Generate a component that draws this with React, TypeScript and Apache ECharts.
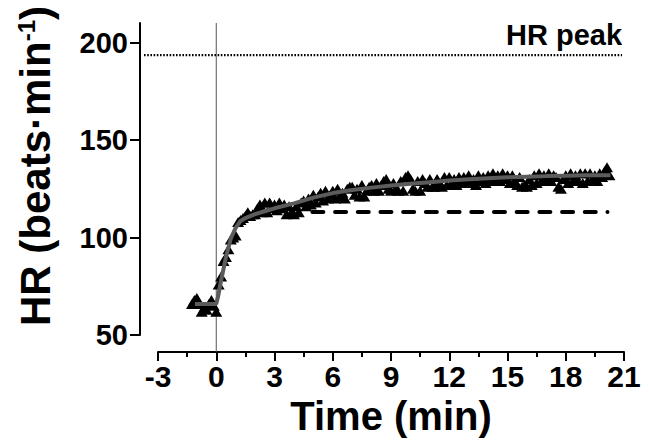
import React, { useEffect, useRef } from "react";
import * as echarts from "echarts";

// Heart-rate samples (min, beats·min^-1)
const timeMin = [
  -1.25, -1.125, -1.0, -0.875, -0.75, -0.625, -0.5, -0.375, -0.25, -0.125, 0,
  0.125, 0.25, 0.375, 0.5, 0.625, 0.75, 0.875, 1.0, 1.125, 1.25, 1.375, 1.5, 1.625, 1.75, 1.875,
  2.0, 2.125, 2.25, 2.375, 2.5, 2.625, 2.75, 2.875, 3.0, 3.125, 3.25, 3.375, 3.5, 3.625, 3.75, 3.875,
  4.0, 4.125, 4.25, 4.375, 4.5, 4.625, 4.75, 4.875, 5.0, 5.125, 5.25, 5.375, 5.5, 5.625, 5.75, 5.875,
  6.0, 6.125, 6.25, 6.375, 6.5, 6.625, 6.75, 6.875, 7.0, 7.125, 7.25, 7.375, 7.5, 7.625, 7.75, 7.875,
  8.0, 8.125, 8.25, 8.375, 8.5, 8.625, 8.75, 8.875, 9.0, 9.125, 9.25, 9.375, 9.5, 9.625, 9.75, 9.875,
  10.0, 10.125, 10.25, 10.375, 10.5, 10.625, 10.75, 10.875, 11.0, 11.125, 11.25, 11.375, 11.5, 11.625, 11.75, 11.875,
  12.0, 12.125, 12.25, 12.375, 12.5, 12.625, 12.75, 12.875, 13.0, 13.125, 13.25, 13.375, 13.5, 13.625, 13.75, 13.875,
  14.0, 14.125, 14.25, 14.375, 14.5, 14.625, 14.75, 14.875, 15.0, 15.125, 15.25, 15.375, 15.5, 15.625, 15.75, 15.875,
  16.0, 16.125, 16.25, 16.375, 16.5, 16.625, 16.75, 16.875, 17.0, 17.125, 17.25, 17.375, 17.5, 17.625, 17.75, 17.875,
  18.0, 18.125, 18.25, 18.375, 18.5, 18.625, 18.75, 18.875, 19.0, 19.125, 19.25, 19.375, 19.5, 19.625, 19.75, 19.875,
  20.0, 20.125, 20.25,
];
const hrValues = [
  66, 68, 69, 66, 62, 64, 63, 66, 68, 65, 62,
  76, 80, 88, 90, 94, 99, 100, 101, 108, 109, 110, 111, 113, 111, 112,
  112, 115, 117, 113, 118, 113, 118, 115, 117, 114, 118, 115, 117, 112, 116, 113,
  112, 116, 113, 118, 119, 116, 120, 117, 122, 118, 121, 123, 119, 124, 120, 122,
  124, 120, 125, 121, 123, 120, 125, 126, 126, 122, 125, 121, 127, 121, 124, 126,
  127, 124, 128, 124, 127, 129, 130, 125, 124, 128, 125, 124, 129, 124, 131, 132,
  130, 125, 124, 129, 124, 130, 128, 126, 130, 126, 126, 130, 128, 126, 131, 127,
  131, 127, 130, 127, 131, 128, 131, 128, 132, 128, 130, 127, 132, 129, 131, 128,
  132, 129, 133, 129, 132, 129, 133, 130, 132, 128, 132, 129, 127, 131, 126, 127,
  126, 130, 127, 132, 128, 133, 129, 132, 130, 133, 129, 132, 131, 126, 125, 130,
  132, 128, 133, 129, 132, 129, 133, 128, 133, 129, 133, 130, 132, 129, 133, 131,
  134, 136, 132,
];

// Model fit curve
const fitTime = [-1.1, 0, 0.1, 0.25, 0.5, 0.75, 1.0, 1.25, 1.5, 2, 2.5, 3, 4, 5, 6, 7, 8, 9, 10, 11, 12, 13, 14, 15, 16, 17, 18, 19, 20.3];
const fitHR = [66, 66, 70, 78, 90, 99.5, 105, 108.5, 110, 112, 113.5, 115, 117.5, 120.5, 122.8, 124.4, 125.6, 126.7, 127.6, 128.4, 129.2, 129.9, 130.4, 130.9, 131.2, 131.5, 131.7, 131.9, 132];

// Reference lines
const hrPeak = 193.5;
const peakLineFrom = -3.72;
const peakLineTo = 20.9;
const plateauHR = 113.4;
const plateauFrom = 4.95;
const plateauTo = 20.15;
const exerciseOnset = 0;

// Axis ticks
const xTicks = [-3, 0, 3, 6, 9, 12, 15, 18, 21];
const yTicks = [50, 100, 150, 200];
const yMax = 210;
const onsetLineBottom = 41.3;

const FONT = '"Liberation Sans", Arial, Helvetica, sans-serif';

export default function App() {
  const ref = useRef<HTMLDivElement>(null);

  useEffect(() => {
    if (!ref.current) return;
    const chart = echarts.init(ref.current, null, { renderer: "svg" });

    const titleGraphic = {
      id: "ytitle",
      type: "text",
      x: 35,
      y: 166,
      rotation: Math.PI / 2,
      style: {
        text: "{a|HR (beats·min}{b|-1}{a|)}",
        align: "center",
        verticalAlign: "middle",
        rich: {
          a: { fontSize: 42, fontWeight: "bold", fontFamily: FONT, fill: "#000" },
          b: { fontSize: 24, fontWeight: "bold", fontFamily: FONT, fill: "#000", verticalAlign: "top" },
        },
      },
    };

    const option: any = {
      animation: false,
      backgroundColor: "#fff",
      grid: { left: 158, right: 25, top: 23, bottom: 104, containLabel: false },
      xAxis: {
        type: "value",
        min: xTicks[0],
        max: xTicks[xTicks.length - 1],
        interval: 3,
        offset: 17,
        axisLine: { show: true, onZero: false, lineStyle: { color: "#000", width: 2 } },
        axisTick: { show: true, length: 9, lineStyle: { color: "#000", width: 2 } },
        minorTick: { show: true, splitNumber: 2, length: 5, lineStyle: { color: "#000", width: 2 } },
        axisLabel: { fontSize: 30, fontWeight: "bold", color: "#000", fontFamily: FONT, margin: 9 },
        splitLine: { show: false },
        name: "Time (min)",
        nameLocation: "middle",
        nameGap: 42,
        nameTextStyle: { fontSize: 40, fontWeight: "bold", color: "#000", fontFamily: FONT },
      },
      yAxis: {
        type: "value",
        min: yTicks[0],
        max: yMax,
        offset: 18,
        axisLine: { show: true, onZero: false, lineStyle: { color: "#000", width: 2 } },
        axisTick: { show: true, length: 10, customValues: yTicks, lineStyle: { color: "#000", width: 2 } },
        axisLabel: { customValues: yTicks, fontSize: 29, fontWeight: "bold", color: "#000", fontFamily: FONT, margin: 12 },
        splitLine: { show: false },
      },
      graphic: [titleGraphic],
      series: [
        {
          type: "scatter",
          symbol: "triangle",
          symbolSize: [12, 10],
          itemStyle: { color: "#000", opacity: 1 },
          z: 2,
          data: timeMin.map((t, i) => [t, hrValues[i]]),
        },
        {
          type: "line",
          data: [],
          clip: false,
          silent: true,
          z: 3,
          markLine: {
            silent: true,
            symbol: ["none", "none"],
            z: 3,
            data: [
              [
                { coord: [plateauFrom, plateauHR], lineStyle: { color: "#000", width: 4, type: [11, 11.7], cap: "round" }, label: { show: false } },
                { coord: [plateauTo, plateauHR] },
              ],
            ],
          },
        },
        {
          type: "line",
          showSymbol: false,
          symbol: "none",
          z: 4,
          lineStyle: { color: "#5c5c5c", width: 4 },
          data: fitTime.map((t, i) => [t, fitHR[i]]),
        },
      ],
    };

    chart.setOption(option);

    // Reference lines that extend beyond the plotting area, placed through the chart's scales
    const onsetTop = chart.convertToPixel({ gridIndex: 0 }, [exerciseOnset, yMax]) as number[];
    const onsetBot = chart.convertToPixel({ gridIndex: 0 }, [exerciseOnset, onsetLineBottom]) as number[];
    const peakA = chart.convertToPixel({ gridIndex: 0 }, [peakLineFrom, hrPeak]) as number[];
    const peakB = chart.convertToPixel({ gridIndex: 0 }, [peakLineTo, hrPeak]) as number[];

    chart.setOption({
      graphic: [
        titleGraphic,
        {
          id: "onset",
          type: "line",
          z: 1,
          silent: true,
          shape: { x1: onsetTop[0], y1: onsetTop[1], x2: onsetBot[0], y2: onsetBot[1] },
          style: { stroke: "#555", lineWidth: 1 },
        },
        {
          id: "peak",
          type: "line",
          z: 1,
          silent: true,
          shape: { x1: peakA[0], y1: peakA[1], x2: peakB[0], y2: peakB[1] },
          style: { stroke: "#000", lineWidth: 2.2, lineDash: [1.6, 1.6] },
        },
        {
          id: "peakLabel",
          type: "text",
          z: 1,
          silent: true,
          x: peakB[0],
          y: peakB[1] - 6,
          style: {
            text: "HR peak",
            align: "right",
            verticalAlign: "bottom",
            fontSize: 29,
            fontWeight: "bold",
            fontFamily: FONT,
            fill: "#000",
          },
        },
      ],
    });

    return () => chart.dispose();
  }, []);

  return (
    <div
      ref={ref}
      style={{ position: "fixed", left: 0, top: 0, width: 649, height: 441, background: "#fff" }}
    />
  );
}
